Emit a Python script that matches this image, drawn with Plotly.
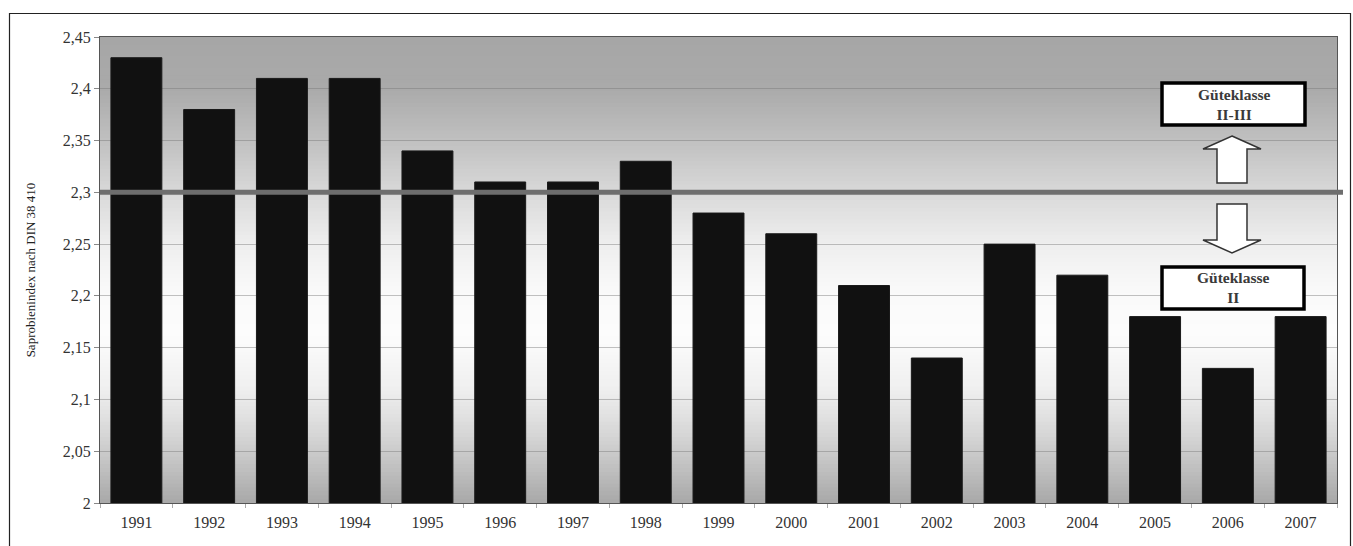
import plotly.graph_objects as go

years = [str(y) for y in range(1991, 2008)]
values = [2.43, 2.38, 2.41, 2.41, 2.34, 2.31, 2.31, 2.33, 2.28, 2.26,
          2.21, 2.14, 2.25, 2.22, 2.18, 2.13, 2.18]
threshold = 2.3
y_ticks = [2, 2.05, 2.1, 2.15, 2.2, 2.25, 2.3, 2.35, 2.4, 2.45]
y_tick_labels = ["2", "2,05", "2,1", "2,15", "2,2", "2,25", "2,3", "2,35", "2,4", "2,45"]
label_upper = "Güteklasse<br>II-III"
label_lower = "Güteklasse<br>II"

W, H = 1353, 546
L, R, T, B = 100, 16, 37, 43
PW, PH = W - L - R, H - T - B

def px(x):
    return (x - L) / PW

def py(y):
    return (H - B - y) / PH

fig = go.Figure()
fig.add_trace(go.Bar(
    x=years, y=values,
    marker=dict(color="#111111", line=dict(color="#1a1a1a", width=1)),
    width=0.7,
))

shapes = []
# background gradient (gray top -> white middle -> gray bottom)
stops = [(1.0, 166), (0.89, 170), (0.78, 192), (0.67, 216), (0.56, 238),
         (0.45, 250), (0.36, 252), (0.25, 240), (0.15, 215), (0.07, 190), (0.0, 168)]
def gray_at(t):
    for (a, ca), (b, cb) in zip(stops, stops[1:]):
        if b <= t <= a:
            f = (a - t) / (a - b)
            return ca + (cb - ca) * f
    return stops[-1][1]
N = 120
for i in range(N):
    y0 = i / N
    y1 = (i + 1) / N + 0.002
    g = int(round(gray_at((y0 + y1) / 2)))
    shapes.append(dict(type="rect", xref="x domain", yref="y domain",
                       x0=0, x1=1, y0=y0, y1=min(y1, 1), layer="below",
                       line=dict(width=0), fillcolor=f"rgb({g},{g},{g})"))

# threshold line
shapes.append(dict(type="line", xref="paper", yref="y", x0=0, x1=px(1343),
                   y0=threshold, y1=threshold, line=dict(color="#6e6e6e", width=5)))

# outer frame
shapes.append(dict(type="rect", xref="paper", yref="paper",
                   x0=px(9.5), x1=px(1350.5), y0=py(560), y1=py(13.5),
                   line=dict(color="#222222", width=1.2), fillcolor="rgba(0,0,0,0)", layer="below"))

# label boxes
for (x0, x1, y0, y1) in [(1162, 1305, 83, 125), (1162, 1304, 267, 309)]:
    shapes.append(dict(type="rect", xref="paper", yref="paper",
                       x0=px(x0), x1=px(x1), y0=py(y1), y1=py(y0),
                       line=dict(color="#000000", width=3.5), fillcolor="white"))

def path(points):
    s = "M " + " L ".join(f"{px(a):.5f},{py(b):.5f}" for a, b in points) + " Z"
    return s

up = [(1232, 136), (1261, 149), (1247, 149), (1247, 183), (1217, 183), (1217, 149), (1203, 149)]
down = [(1217, 204), (1247, 204), (1247, 240), (1261, 240), (1232, 253), (1203, 240), (1217, 240)]
for pts in (up, down):
    shapes.append(dict(type="path", xref="paper", yref="paper", path=path(pts),
                       line=dict(color="#333333", width=1.5), fillcolor="white"))

box_font = dict(family="Liberation Serif", size=15.5, color="#3a3a3a")
annotations = [
    dict(text="<b>" + label_upper.replace("<br>", "</b><br><b>") + "</b>",
         xref="paper", yref="paper", x=px(1233.5), y=py(104),
         xanchor="center", yanchor="middle", align="center",
         showarrow=False, font=box_font),
    dict(text="<b>" + label_lower.replace("<br>", "</b><br><b>") + "</b>",
         xref="paper", yref="paper", x=px(1233), y=py(287),
         xanchor="center", yanchor="middle", align="center",
         showarrow=False, font=box_font),
]

fig.update_layout(
    width=W, height=H,
    margin=dict(l=L, r=R, t=T, b=B),
    paper_bgcolor="white", plot_bgcolor="#d0d0d0",
    showlegend=False,
    bargap=0.3,
    shapes=shapes, annotations=annotations,
    font=dict(family="Liberation Serif", size=16, color="#333333"),
    xaxis=dict(type="category", tickson="boundaries", ticks="outside", ticklen=4,
               tickcolor="#aaaaaa", showline=True, linecolor="#555555", linewidth=1,
               mirror=True, showgrid=False, ticklabelstandoff=5,
               tickfont=dict(family="Liberation Serif", size=16, color="#333333")),
    yaxis=dict(range=[2, 2.45], tickvals=y_ticks, ticktext=y_tick_labels,
               ticks="outside", ticklen=5, tickcolor="#888888",
               showline=True, linecolor="#555555", linewidth=1, mirror=True,
               showgrid=True, gridcolor="rgba(120,120,120,0.45)", gridwidth=1,
               tickfont=dict(family="Liberation Serif", size=16, color="#333333"),
               title=dict(text="Saprobienindex nach DIN 38 410", standoff=24,
                          font=dict(family="Liberation Serif", size=13, color="#222222"))),
)

fig.write_html("out.html")
